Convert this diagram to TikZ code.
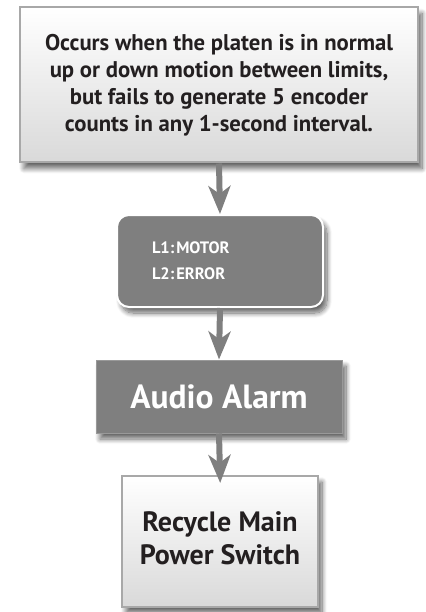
\documentclass[tikz,border=0pt]{standalone}
\usepackage{fontspec}
\setmainfont{PT Sans}
\usetikzlibrary{arrows.meta,shadows.blur}
\definecolor{boxgray}{HTML}{7F7F7F}
\definecolor{edgegray}{HTML}{A8A8A8}
\definecolor{lightbot}{HTML}{D9D9D9}
\definecolor{inkblack}{HTML}{231F20}
\begin{document}
\begin{tikzpicture}[x=1pt,y=-1pt,
  shade/.style={blur shadow={shadow xshift=4pt,shadow yshift=-6pt,shadow blur steps=10,shadow blur radius=5pt,shadow opacity=60}},
  lightbox/.style={shade,draw=edgegray,line width=2pt,top color=white,bottom color=lightbot,
     text=inkblack,align=center,inner sep=0pt,font=\bfseries},
  darkbox/.style={shade,fill=boxgray,text=white,inner sep=0pt,font=\bfseries},
  arr/.style={draw=boxgray,line width=6pt,-{Stealth[length=28pt,width=22pt,inset=8pt]}}]
\useasboundingbox (0,0) rectangle (425,612);
\node[lightbox,minimum width=398pt,minimum height=155pt,
  font=\bfseries\fontsize{22.7}{27}\selectfont] (top) at (219,85)
  {Occurs when the platen is in normal\\up or down motion between limits,\\but fails to generate 5 encoder\\counts in any 1-second interval.};
\node[darkbox,draw=white,line width=2pt,rounded corners=12pt,minimum height=92pt,
  text width=136pt,inner xsep=35pt,align=left,
  font=\bfseries\fontsize{16.5}{26}\selectfont] (lcd) at (220,261)
  {L1:\kern2pt MOTOR\\L2:\kern2pt ERROR};
\node[darkbox,draw=boxgray!80!white,line width=1pt,minimum width=246pt,minimum height=73pt,
  font=\bfseries\fontsize{33.5}{36}\selectfont] (alarm) at (219,396.5) {Audio Alarm};
\node[lightbox,minimum width=196pt,minimum height=131pt,
  font=\bfseries\fontsize{28}{33}\selectfont] (bot) at (220,541.5)
  {Recycle Main\\Power Switch\rule[-6pt]{0pt}{6pt}};
\draw[arr] (top.south) -- (lcd.north);
\draw[arr] (lcd.south) -- (alarm.north);
\draw[arr,shorten >=-8pt] (alarm.south) -- (bot.north);
\end{tikzpicture}
\end{document}
